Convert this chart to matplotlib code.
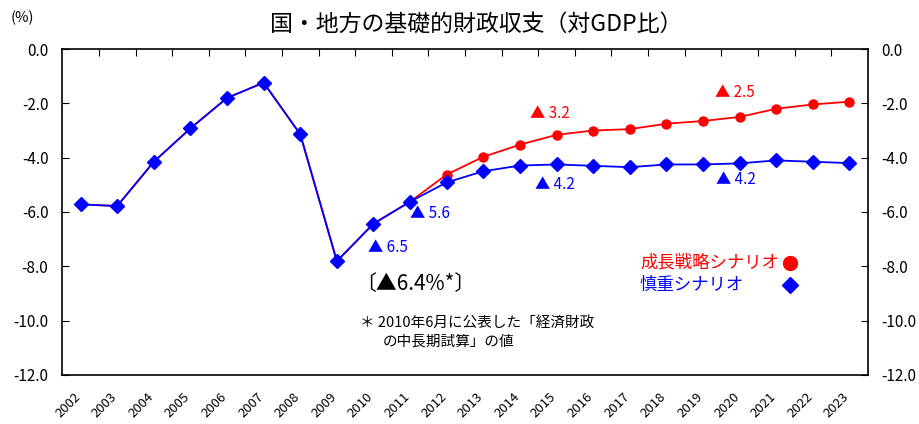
import numpy as np
import matplotlib.pyplot as plt

plt.rcParams['font.family'] = ['Noto Sans CJK JP', 'DejaVu Sans']

years = [str(y) for y in range(2002, 2024)]

# 慎重シナリオ (cautious scenario)
cautious = [-5.72, -5.78, -4.15, -2.92, -1.80, -1.24, -3.14, -7.81, -6.43, -5.62,
            -4.91, -4.50, -4.29, -4.25, -4.30, -4.35, -4.25, -4.25, -4.21, -4.10,
            -4.15, -4.20]
# 成長戦略シナリオ (growth strategy scenario)
growth = [-5.72, -5.78, -4.15, -2.92, -1.80, -1.24, -3.14, -7.81, -6.43, -5.62,
          -4.62, -3.97, -3.52, -3.16, -3.00, -2.95, -2.75, -2.65, -2.50, -2.20,
          -2.04, -1.94]

# (x index, y value, label, colour)
notes = [(7.85, -7.32, '▲ 6.5', 'blue'),
         (9.0, -6.04, '▲ 5.6', 'blue'),
         (12.28, -2.37, '▲ 3.2', 'red'),
         (12.41, -4.97, '▲ 4.2', 'blue'),
         (17.33, -1.60, '▲ 2.5', 'red'),
         (17.36, -4.79, '▲ 4.2', 'blue')]

x = np.arange(len(years))

fig = plt.figure(figsize=(9.19, 4.24), dpi=100)
ax = fig.add_axes([0.0678, 0.1156, 0.8764, 0.7688])

ax.plot(x, growth, color='red', lw=1.3, marker='o', ms=6.5, zorder=2)
ax.plot(x, cautious, color='blue', lw=1.3, marker='D', ms=7, zorder=3)

ax.set_xlim(-0.5, len(years) - 0.5)
ax.set_ylim(-12, 0)
ax.set_yticks(np.arange(-12, 0.1, 2))
ax.set_yticklabels(['%.1f' % v for v in np.arange(-12, 0.1, 2)], fontsize=11)
ax.tick_params(axis='y', direction='in', length=5, width=0.8, pad=10,
               left=True, right=True, labelleft=True, labelright=True)

# top ticks at category boundaries, no bottom ticks
ax.set_xticks(np.arange(0.5, len(years) - 1, 1))
ax.tick_params(axis='x', bottom=False, top=True, direction='in',
               length=5, width=0.8, labelbottom=False)
for xi, yr in zip(x, years):
    ax.annotate(yr, (xi, -12), xytext=(-5, -11), textcoords='offset points',
                rotation=45, ha='right', va='top', rotation_mode='anchor',
                fontsize=9.5, annotation_clip=False)

for s in ax.spines.values():
    s.set_linewidth(1.2)

for nx, ny, txt, col in notes:
    ax.text(nx, ny, txt, color=col, fontsize=11, va='center')

ax.text(7.49, -8.65, '〔▲6.4%*〕', fontsize=15, va='center')
ax.text(7.63, -10.07, '＊ 2010年6月に公表した「経済財政', fontsize=10.5, va='center')
ax.text(8.26, -10.77, 'の中長期試算」の値', fontsize=10.5, va='center')

# legend
ax.text(15.28, -7.87, '成長戦略シナリオ', color='red', fontsize=12.5, va='center')
ax.text(15.28, -8.67, '慎重シナリオ', color='blue', fontsize=12.5, va='center')
ax.plot([19.38], [-7.87], 'o', color='red', ms=10)
ax.plot([19.38], [-8.67], 'D', color='blue', ms=8)

fig.text(0.518, 0.94, '国・地方の基礎的財政収支（対GDP比）', fontsize=16.5,
         ha='center', va='center')
fig.text(0.012, 0.957, '(%)', fontsize=10.5, ha='left', va='center')

fig.savefig('out.png', dpi=100)
